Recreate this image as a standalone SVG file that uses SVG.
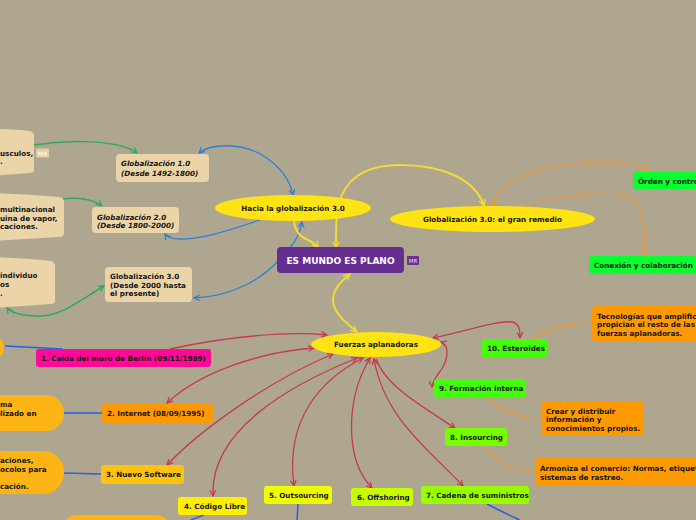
<svg xmlns="http://www.w3.org/2000/svg" width="696" height="520" viewBox="0 0 696 520">
<style>
text{font-family:"DejaVu Sans","Verdana",sans-serif;font-weight:bold;font-size:7.2px;fill:#161616}
.it{font-style:italic}
.c{fill:none;stroke-width:1.3}
.red{stroke:#C7384F}
.blu{stroke:#2F7ED6}
.blu2{stroke:#2B5EE6;stroke-width:1.5}
.grn{stroke:#2EAA5A;stroke-width:1.5}
.yel{stroke:#F2DA34;stroke-width:2}
.org{stroke:#EA963A}
.beige{fill:#EBD5A8}
.ell{fill:#FFE312}
.pill{fill:#FDB515}
.om{fill:#FF9900}
</style>
<defs>
<marker id="aR" viewBox="0 0 10 10" refX="9" refY="5" markerWidth="7" markerHeight="7" markerUnits="userSpaceOnUse" orient="auto-start-reverse"><path d="M1,1 L9,5 L1,9" fill="none" stroke="#C7384F" stroke-width="1.8"/></marker>
<marker id="aB" viewBox="0 0 10 10" refX="9" refY="5" markerWidth="7" markerHeight="7" markerUnits="userSpaceOnUse" orient="auto-start-reverse"><path d="M1,1 L9,5 L1,9" fill="none" stroke="#2F7ED6" stroke-width="1.8"/></marker>
<marker id="aG" viewBox="0 0 10 10" refX="9" refY="5" markerWidth="7" markerHeight="7" markerUnits="userSpaceOnUse" orient="auto-start-reverse"><path d="M1,1 L9,5 L1,9" fill="none" stroke="#2EAA5A" stroke-width="1.8"/></marker>
<marker id="aY" viewBox="0 0 10 10" refX="9" refY="5" markerWidth="8" markerHeight="8" markerUnits="userSpaceOnUse" orient="auto-start-reverse"><path d="M1,1 L9,5 L1,9" fill="none" stroke="#F2DA34" stroke-width="1.8"/></marker>
<marker id="aO" viewBox="0 0 10 10" refX="9" refY="5" markerWidth="7" markerHeight="7" markerUnits="userSpaceOnUse" orient="auto-start-reverse"><path d="M1,1 L9,5 L1,9" fill="none" stroke="#EA963A" stroke-width="1.8"/></marker>
</defs>
<rect x="0" y="0" width="696" height="520" fill="#AFA690"/>

<g id="connectors">
  <path class="c grn" d="M34,145 C70,139 120,140 137,153" marker-end="url(#aG)"/>
  <path class="c grn" d="M63,199 C80,197 95,200 102,206" marker-end="url(#aG)"/>
  <path class="c grn" d="M104,286 C80,300 60,318 35,316 C20,315 10,312 7,308" marker-start="url(#aG)" marker-end="url(#aG)"/>
  <path class="c blu" d="M199,153 C210,144 240,142 262,155 C280,166 290,180 293,195" marker-start="url(#aB)" marker-end="url(#aB)"/>
  <path class="c blu" d="M260,220 C230,230 200,240 180,239 C172,239 167,237 165,234" marker-end="url(#aB)"/>
  <path class="c blu" d="M194,298 C235,296 262,278 277,262 C290,248 300,238 302,222" marker-start="url(#aB)" marker-end="url(#aB)"/>
  <path class="c yel" d="M294,221 C295,232 300,237 308,240 C313,242 316,245 318,248" marker-end="url(#aY)"/>
  <path class="c yel" d="M336,248 C336,225 336,205 342,195 C352,172 375,165 400,165 C440,165 475,178 484,206" marker-start="url(#aY)" marker-end="url(#aY)"/>
  <path class="c yel" d="M357,332 C345,322 333,312 333,300 C333,288 343,280 350,274" marker-start="url(#aY)" marker-end="url(#aY)"/>
  <path class="c org" d="M492,205 C500,180 540,165 580,163 C620,161 640,162 648,171" marker-start="url(#aO)" marker-end="url(#aO)"/>
  <path class="c org" d="M523,207 C560,195 600,190 625,195 C645,200 645,230 645,256" marker-end="url(#aO)"/>
  <path class="c org" d="M532,339 C550,328 570,323 592,323"/>
  <path class="c org" d="M488,397 C500,410 520,418 541,418"/>
  <path class="c org" d="M483,446 C495,460 510,471 535,471"/>
  <path class="c red" d="M170,349 C230,336 290,331 327,335" marker-end="url(#aR)"/>
  <path class="c red" d="M314,348 C260,352 200,372 167,403" marker-start="url(#aR)" marker-end="url(#aR)"/>
  <path class="c red" d="M333,354 C270,380 200,430 167,465" marker-start="url(#aR)" marker-end="url(#aR)"/>
  <path class="c red" d="M357,358 C290,385 210,430 213,496" marker-start="url(#aR)" marker-end="url(#aR)"/>
  <path class="c red" d="M363,358 C320,380 285,420 294,486" marker-start="url(#aR)" marker-end="url(#aR)"/>
  <path class="c red" d="M370,358 C345,400 345,460 372,488" marker-start="url(#aR)" marker-end="url(#aR)"/>
  <path class="c red" d="M374,359 C385,420 430,450 463,486" marker-start="url(#aR)" marker-end="url(#aR)"/>
  <path class="c red" d="M376,359 C385,385 420,405 455,428" marker-end="url(#aR)"/>
  <path class="c red" d="M441,342 C450,345 448,360 441,370 C436,377 432,382 432,387" marker-start="url(#aR)" marker-end="url(#aR)"/>
  <path class="c red" d="M433,338 C470,330 500,320 512,322 C520,324 520,330 520,338" marker-start="url(#aR)" marker-end="url(#aR)"/>
  <path class="c blu2" d="M5,346 C25,347 45,348 63,349"/>
  <path class="c blu2" d="M64,413 L102,413"/>
  <path class="c blu2" d="M64,473 L101,474"/>
  <path class="c blu2" d="M204,515 C198,517 193,519 189,521"/>
  <path class="c blu2" d="M298,504 L297,521"/>
  <path class="c blu2" d="M487,504 C498,510 510,515 521,521"/>
</g>

<g id="left-node-1">
  <path class="beige" d="M-10,129 Q15,129 30,131 Q34,132 34,136 L34,170 Q34,173 30,173 Q15,174 -10,176 Z"/>
  <text x="0" y="156">usculos,</text>
  <text x="0" y="164">.</text>
  <rect x="36" y="148.5" width="13" height="9" rx="1" fill="#E3CFA3"/>
  <text x="42.5" y="155.5" text-anchor="middle" style="font-size:6px;fill:#fff;font-weight:normal">MR</text>
</g>
<g id="left-node-2">
  <path class="beige" d="M-10,193 Q25,194 59,197 Q64,198 64,202 L64,233 Q64,237 59,237 Q25,239 -10,241 Z"/>
  <text x="0" y="211.5">multinacional</text>
  <text x="0" y="220.5">uina de vapor,</text>
  <text x="0" y="228.5">caciones.</text>
</g>
<g id="left-node-3">
  <path class="beige" d="M-10,257 Q25,258 51,261 Q55,262 55,266 L55,301 Q55,304 51,304 Q25,306 -10,308 Z"/>
  <text x="0" y="277.5">individuo</text>
  <text x="0" y="286.5">os</text>
  <text x="0" y="295.5">.</text>
</g>

<g id="glob1">
  <rect class="beige" x="116" y="154" width="93" height="28" rx="4"/>
  <text class="it" x="121" y="166">Globalización 1.0</text>
  <text class="it" x="121" y="175.5">(Desde 1492-1800)</text>
</g>
<g id="glob2">
  <rect class="beige" x="92" y="207" width="87" height="26" rx="4"/>
  <text class="it" x="97" y="219.5">Globalización 2.0</text>
  <text class="it" x="97" y="227.5">(Desde 1800-2000)</text>
</g>
<g id="glob3">
  <rect class="beige" x="105" y="267" width="87" height="35" rx="4"/>
  <text x="110" y="279">Globalización 3.0</text>
  <text x="110" y="287.5">(Desde 2000 hasta</text>
  <text x="110" y="296">el presente)</text>
</g>

<g id="hacia">
  <ellipse class="ell" cx="293" cy="208" rx="78" ry="13"/>
  <text x="293" y="210.5" text-anchor="middle">Hacia la globalización 3.0</text>
</g>
<g id="remedio">
  <ellipse class="ell" cx="492.5" cy="219" rx="102.5" ry="13"/>
  <text x="492.5" y="221.5" text-anchor="middle">Globalización 3.0: el gran remedio</text>
</g>
<g id="center">
  <rect x="277" y="247" width="127" height="26" rx="4" fill="#662D91"/>
  <text x="340.5" y="263.5" text-anchor="middle" style="font-size:9px;fill:#fff">ES MUNDO ES PLANO</text>
  <rect x="407" y="256" width="12" height="9" rx="1" fill="#6B2F96"/>
  <text x="413" y="262.8" text-anchor="middle" style="font-size:5.5px;fill:#E8DDF0;font-weight:normal">MR</text>
</g>
<g id="fuerzas">
  <ellipse class="ell" cx="376" cy="344.5" rx="65" ry="12.5"/>
  <text x="376" y="347" text-anchor="middle">Fuerzas aplanadoras</text>
</g>

<g id="orden">
  <rect x="633" y="172" width="70" height="17" rx="3" fill="#0AFF2E"/>
  <text x="638" y="183.5">Órden y control</text>
</g>
<g id="conexion">
  <rect x="589" y="256" width="107" height="18" rx="3" fill="#0AFF2E"/>
  <text x="594" y="267.5">Conexión y colaboración</text>
</g>

<g id="f1">
  <rect x="36" y="349" width="175" height="18" rx="3" fill="#FF0A98"/>
  <text x="41" y="360.5">1. Caída del muro de Berlín (09/11/1989)</text>
</g>
<g id="f2">
  <rect x="102" y="404" width="111" height="19" rx="3" class="om"/>
  <text x="107" y="416">2. Internet (08/09/1995)</text>
</g>
<g id="f3">
  <rect x="101" y="465" width="83" height="19" rx="3" fill="#FFC20E"/>
  <text x="106" y="477">3. Nuevo Software</text>
</g>
<g id="f4">
  <rect x="178" y="497" width="69" height="18" rx="3" fill="#FFEE00"/>
  <text x="184" y="509">4. Código Libre</text>
</g>
<g id="f5">
  <rect x="264" y="486" width="68" height="18" rx="3" fill="#EEFF00"/>
  <text x="269" y="498">5. Outsourcing</text>
</g>
<g id="f6">
  <rect x="351" y="488" width="62" height="18" rx="3" fill="#C8FF00"/>
  <text x="357" y="500">6. Offshoring</text>
</g>
<g id="f7">
  <rect x="421" y="486" width="108" height="18" rx="3" fill="#99FF00"/>
  <text x="426" y="497.5">7. Cadena de suministros</text>
</g>
<g id="f8">
  <rect x="445" y="428" width="62" height="18" rx="3" fill="#77FF00"/>
  <text x="450" y="439.5">8. Insourcing</text>
</g>
<g id="f9">
  <rect x="434" y="379" width="92" height="18" rx="3" fill="#44FF0A"/>
  <text x="439" y="390.5">9. Formación interna</text>
</g>
<g id="f10">
  <rect x="482" y="339" width="65" height="18" rx="3" fill="#44FF0A"/>
  <text x="487" y="350.5">10. Esteroides</text>
</g>

<g id="tecnologias">
  <rect x="592" y="306" width="110" height="35" rx="4" class="om"/>
  <text x="597" y="318.5">Tecnologías que amplifica</text>
  <text x="597" y="327">propician el resto de las</text>
  <text x="597" y="335.5">fuerzas aplanadoras.</text>
</g>
<g id="crear">
  <rect x="541" y="401" width="103" height="35" rx="4" class="om"/>
  <text x="546" y="413.5">Crear y distribuir</text>
  <text x="546" y="422">información y</text>
  <text x="546" y="430.5">conocimientos propios.</text>
</g>
<g id="armoniza">
  <rect x="535" y="458" width="170" height="27" rx="4" class="om"/>
  <text x="540" y="470.5">Armoniza el comercio: Normas, etiqueta</text>
  <text x="540" y="479.5">sistemas de rastreo.</text>
</g>

<g id="pill-a">
  <rect class="pill" x="-30" y="335" width="34" height="25" rx="12.5"/>
</g>
<g id="pill-b">
  <rect class="pill" x="-60" y="395" width="124" height="36" rx="18"/>
  <text x="0" y="406.5">ma</text>
  <text x="0" y="415.5">lizado en</text>
</g>
<g id="pill-c">
  <rect class="pill" x="-60" y="451" width="124" height="43" rx="21"/>
  <text x="0" y="462.5">aciones,</text>
  <text x="0" y="471.5">ocolos para</text>
  <text x="0" y="488.5">cación.</text>
</g>
<g id="pill-d">
  <rect class="pill" x="63" y="515" width="107" height="30" rx="14"/>
</g>
</svg>
